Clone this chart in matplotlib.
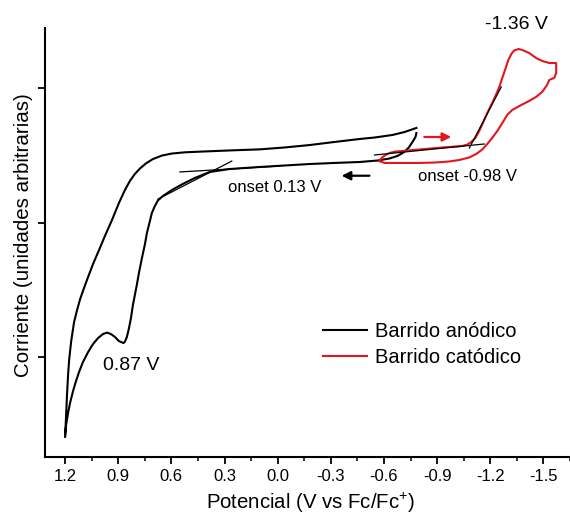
import matplotlib.pyplot as plt
import numpy as np

plt.rcParams['font.family'] = ['Liberation Sans', 'DejaVu Sans']
plt.rcParams['mathtext.fontset'] = 'custom'
plt.rcParams['mathtext.rm'] = 'Liberation Sans'

# anodic sweep (black): potential in V vs Fc/Fc+, current in arbitrary units
anod_v = [-0.783, -0.716, -0.648, -0.547, -0.462, -0.321, -0.180, -0.039, 0.101, 0.270,
          0.439, 0.524, 0.597, 0.653, 0.704, 0.744, 0.777, 0.806, 0.834, 0.862,
          0.896, 0.935, 0.975, 1.008, 1.042, 1.070, 1.093, 1.115, 1.132, 1.149,
          1.166, 1.177, 1.183, 1.189, 1.194, 1.200,
          1.194, 1.183, 1.172, 1.155, 1.138, 1.121, 1.099, 1.070, 1.042, 1.014,
          0.986, 0.963, 0.941, 0.918, 0.896, 0.870, 0.862, 0.851, 0.839, 0.828,
          0.817, 0.806, 0.794, 0.783, 0.766, 0.749, 0.738, 0.721, 0.710, 0.693,
          0.676, 0.648, 0.597, 0.535, 0.468, 0.383, 0.270, 0.101, -0.039, -0.180,
          -0.321, -0.462, -0.563, -0.631, -0.676, -0.710, -0.738, -0.761, -0.778, -0.783]
anod_i = [1.705, 1.675, 1.653, 1.634, 1.623, 1.601, 1.578, 1.560, 1.546, 1.538,
          1.529, 1.524, 1.515, 1.500, 1.474, 1.441, 1.404, 1.363, 1.311, 1.244,
          1.147, 1.021, 0.902, 0.798, 0.694, 0.597, 0.515, 0.433, 0.352, 0.263,
          0.114, -0.020, -0.132, -0.280, -0.429, -0.593,
          -0.503, -0.414, -0.340, -0.251, -0.176, -0.109, -0.035, 0.039, 0.099, 0.143,
          0.173, 0.184, 0.173, 0.151, 0.121, 0.106, 0.117, 0.151, 0.218, 0.292,
          0.389, 0.463, 0.545, 0.627, 0.738, 0.842, 0.924, 1.014, 1.073, 1.125,
          1.166, 1.199, 1.244, 1.289, 1.333, 1.378, 1.400, 1.415, 1.426, 1.437,
          1.445, 1.452, 1.463, 1.478, 1.497, 1.523, 1.556, 1.601, 1.638, 1.668]

# cathodic sweep (red)
cat_v = [-0.575, -0.586, -0.609, -0.631, -0.665, -0.704, -0.800, -0.896, -0.969, -1.042,
         -1.071, -1.093, -1.116, -1.138, -1.161, -1.183, -1.211, -1.234, -1.251, -1.268,
         -1.285, -1.302, -1.319, -1.335, -1.360, -1.380, -1.420, -1.459, -1.493, -1.533,
         -1.572,
         -1.572, -1.572, -1.561, -1.533, -1.521, -1.493, -1.459, -1.420, -1.375, -1.324,
         -1.296, -1.268, -1.240, -1.211, -1.183, -1.155, -1.121, -1.082, -1.025, -0.969,
         -0.885, -0.800, -0.687, -0.603, -0.575]
cat_i = [1.459, 1.482, 1.504, 1.519, 1.530, 1.534, 1.545, 1.556, 1.564, 1.571,
         1.582, 1.601, 1.631, 1.683, 1.750, 1.816, 1.891, 1.958, 2.010, 2.077,
         2.143, 2.210, 2.255, 2.281, 2.292, 2.285, 2.262, 2.225, 2.203, 2.188,
         2.188,
         2.158, 2.114, 2.077, 2.062, 2.025, 1.973, 1.936, 1.906, 1.876, 1.839,
         1.802, 1.742, 1.683, 1.631, 1.586, 1.545, 1.512, 1.486, 1.467, 1.456,
         1.448, 1.445, 1.445, 1.445, 1.459]

# tangent lines used for the onset estimates
tangents = [
    ([0.676, 0.259], [1.176, 1.459]),
    ([0.552, -0.011], [1.378, 1.422]),
    ([-0.547, -1.166], [1.504, 1.586]),
    ([-1.082, -1.262], [1.556, 2.010]),
]

red = '#e3161d'

fig = plt.figure(figsize=(5.7, 5.16), dpi=100)
ax = fig.add_axes([0.079, 0.1143, 0.921, 0.8314])

ax.plot(anod_v, anod_i, color='black', lw=1.5, label='Barrido anódico')
ax.plot(cat_v, cat_i, color=red, lw=1.5, label='Barrido catódico')
for tv, ti in tangents:
    ax.plot(tv, ti, color='black', lw=0.9)

# sweep direction arrows
ax.annotate('', xy=(-0.361, 1.350), xytext=(-0.518, 1.350),
            arrowprops=dict(arrowstyle='-|>', color='black', lw=1.6,
                            mutation_scale=13, shrinkA=0, shrinkB=0))
ax.annotate('', xy=(-0.980, 1.638), xytext=(-0.828, 1.638),
            arrowprops=dict(arrowstyle='-|>', color=red, lw=1.6,
                            mutation_scale=13, shrinkA=0, shrinkB=0))

ax.text(0.828, -0.057, '0.87 V', fontsize=14, ha='center', va='center')
ax.text(-1.347, 2.471, '-1.36 V', fontsize=14, ha='center', va='center')
ax.text(0.017, 1.259, 'onset 0.13 V', fontsize=12, ha='center', va='center')
ax.text(-1.071, 1.341, 'onset -0.98 V', fontsize=12, ha='center', va='center')

ax.set_xlim(1.313, -1.645)
ax.set_ylim(-0.741, 2.448)
ax.set_xticks(np.arange(1.2, -1.51, -0.3))
ax.set_xticklabels(['1.2', '0.9', '0.6', '0.3', '0.0', '-0.3', '-0.6', '-0.9', '-1.2', '-1.5'])
ax.set_xticks(np.arange(1.05, -1.66, -0.3), minor=True)
ax.set_yticks([0, 1, 2])
ax.set_yticklabels([])

for side in ['top', 'right']:
    ax.spines[side].set_visible(False)
for side in ['left', 'bottom']:
    ax.spines[side].set_linewidth(1.5)
ax.tick_params(axis='both', which='major', direction='out', length=5, width=1.3,
               labelsize=12, colors='black')
ax.tick_params(axis='x', which='minor', direction='out', length=3, width=1.1)

fig.text(311 / 570, 7 / 516, 'Potencial (V vs Fc/Fc$^{+}$)', fontsize=14.7,
         ha='center', va='baseline')
fig.text(24 / 570, 1 - 235 / 516, 'Corriente (unidades arbitrarias)', fontsize=14.8,
         rotation=90, ha='center', va='center')

ax.legend(loc='center left', bbox_to_anchor=(323 / 570, 1 - 344.5 / 516),
          bbox_transform=fig.transFigure, frameon=False, fontsize=14.5,
          handlelength=2.2, handletextpad=0.4, labelspacing=0.34,
          borderpad=0, borderaxespad=0)

fig.savefig('out.png', dpi=100)
